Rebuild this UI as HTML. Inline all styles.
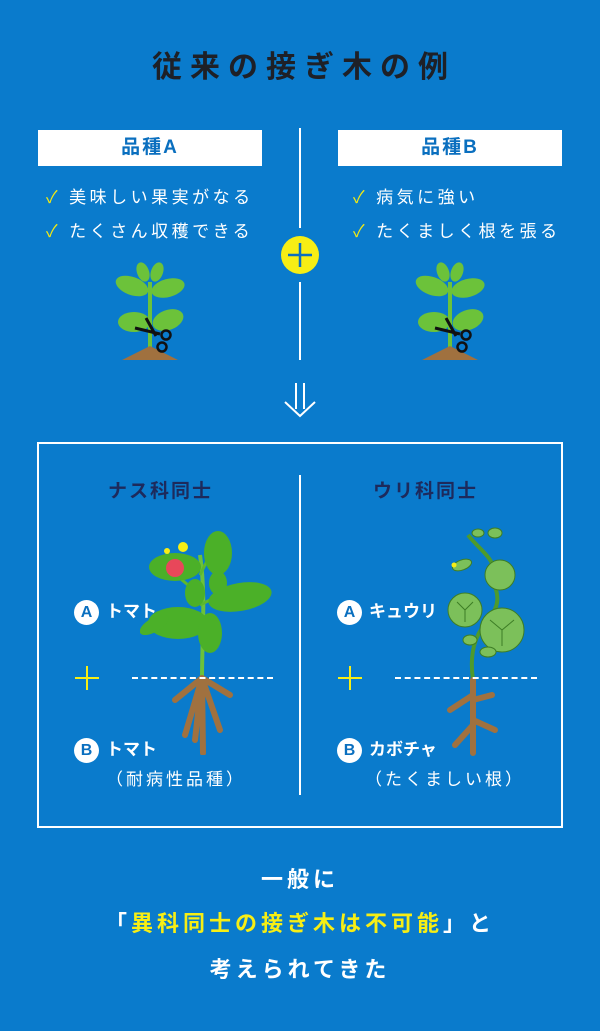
<!DOCTYPE html>
<html><head><meta charset="utf-8"><style>
*{margin:0;padding:0;box-sizing:border-box}
body{width:600px;height:1031px;background:#0a7bcc;position:relative;overflow:hidden;font-family:"Liberation Sans","Noto Sans CJK JP",sans-serif}
.a{position:absolute;white-space:nowrap}
.title{left:0;width:600px;top:42px;text-align:center;font-size:30px;font-weight:bold;color:#1e2027;letter-spacing:8px;padding-left:8px}
.box{background:#fff;height:36px;line-height:36px;text-align:center;color:#0a6fbf;font-weight:bold;font-size:19px;letter-spacing:2px}
.chk{color:#fff;font-size:17px;letter-spacing:3.5px}
.chk b{color:#f4ea12;font-weight:normal;margin-right:8px}
.vl{position:absolute;width:2px;background:#fff}
.h{color:#1d2a5c;font-weight:bold;font-size:19px;letter-spacing:2px}
.lbl{color:#fff;font-weight:bold;font-size:17px}
.circ{display:inline-block;width:25px;height:25px;border-radius:50%;background:#fff;color:#0a6fbf;text-align:center;line-height:25px;font-size:16px;font-weight:bold;margin-right:7px;vertical-align:middle}
.sub{color:#fff;font-size:17px;letter-spacing:3px}
.bot{left:0;width:600px;text-align:center;color:#fff;font-weight:bold;font-size:22px;letter-spacing:4px}
.bot span{color:#f7ee14}
.dash{position:absolute;height:0;border-top:2px dashed #fff}
</style></head><body>
<div class="a title">従来の接ぎ木の例</div>

<div class="a box" style="left:38px;top:130px;width:224px">品種A</div>
<div class="a box" style="left:338px;top:130px;width:224px">品種B</div>
<div class="a chk" style="left:46px;top:183px"><b>✓</b>美味しい果実がなる</div>
<div class="a chk" style="left:46px;top:217px"><b>✓</b>たくさん収穫できる</div>
<div class="a chk" style="left:353px;top:183px"><b>✓</b>病気に強い</div>
<div class="a chk" style="left:353px;top:217px"><b>✓</b>たくましく根を張る</div>

<div class="vl" style="left:299px;top:128px;height:100px"></div>
<div class="vl" style="left:299px;top:282px;height:78px"></div>
<svg class="a" style="left:280px;top:236px" width="40" height="40"><circle cx="20" cy="19" r="19" fill="#f7ee14"/><path d="M20 7v24M8 19h24" stroke="#0a6fbf" stroke-width="2.5"/></svg>

<svg class="a" style="left:110px;top:262px" width="80" height="100" viewBox="0 0 80 100">
<path d="M40 98V20" stroke="#6cc23a" stroke-width="4"/>
<ellipse cx="22" cy="24" rx="17" ry="9" fill="#6cc23a" transform="rotate(20 22 24)"/>
<ellipse cx="58" cy="26" rx="17" ry="9" fill="#6cc23a" transform="rotate(-15 58 26)"/>
<ellipse cx="33" cy="10" rx="6" ry="10" fill="#6cc23a" transform="rotate(-20 33 10)"/>
<ellipse cx="47" cy="10" rx="6" ry="10" fill="#6cc23a" transform="rotate(20 47 10)"/>
<ellipse cx="24" cy="60" rx="16" ry="10" fill="#6cc23a"/>
<ellipse cx="58" cy="58" rx="16" ry="10" fill="#6cc23a" transform="rotate(-20 58 58)"/>
<path d="M12 98L40 84L68 98Z" fill="#a0713f"/>
<path d="M25 66L50 72M36 56L46 74" stroke="#111" stroke-width="3"/><circle cx="56" cy="73" r="4.5" fill="none" stroke="#111" stroke-width="2.5"/><circle cx="52" cy="85" r="4.5" fill="none" stroke="#111" stroke-width="2.5"/>
</svg>
<svg class="a" style="left:410px;top:262px" width="80" height="100" viewBox="0 0 80 100">
<path d="M40 98V20" stroke="#6cc23a" stroke-width="4"/>
<ellipse cx="22" cy="24" rx="17" ry="9" fill="#6cc23a" transform="rotate(20 22 24)"/>
<ellipse cx="58" cy="26" rx="17" ry="9" fill="#6cc23a" transform="rotate(-15 58 26)"/>
<ellipse cx="33" cy="10" rx="6" ry="10" fill="#6cc23a" transform="rotate(-20 33 10)"/>
<ellipse cx="47" cy="10" rx="6" ry="10" fill="#6cc23a" transform="rotate(20 47 10)"/>
<ellipse cx="24" cy="60" rx="16" ry="10" fill="#6cc23a"/>
<ellipse cx="58" cy="58" rx="16" ry="10" fill="#6cc23a" transform="rotate(-20 58 58)"/>
<path d="M12 98L40 84L68 98Z" fill="#a0713f"/>
<path d="M25 66L50 72M36 56L46 74" stroke="#111" stroke-width="3"/><circle cx="56" cy="73" r="4.5" fill="none" stroke="#111" stroke-width="2.5"/><circle cx="52" cy="85" r="4.5" fill="none" stroke="#111" stroke-width="2.5"/>
</svg>

<svg class="a" style="left:282px;top:380px" width="36" height="40"><path d="M14 3v26M22 3v26" stroke="#fff" stroke-width="2"/><path d="M3 22l15 14l15-14" stroke="#fff" stroke-width="2" fill="none"/></svg>

<div class="a" style="left:37px;top:442px;width:526px;height:386px;border:2px solid #fff"></div>
<div class="vl" style="left:299px;top:475px;height:320px"></div>
<div class="a h" style="left:108px;top:476px">ナス科同士</div>
<div class="a h" style="left:373px;top:476px">ウリ科同士</div>

<!-- tomato plant -->
<svg class="a" style="left:140px;top:525px" width="140" height="230" viewBox="0 0 140 230">
<path d="M62 155C62 110 66 70 60 30" stroke="#6cc23a" stroke-width="4" fill="none"/>
<path d="M60 70L30 45M60 80L90 65M62 100L30 95M60 50L75 20" stroke="#5cb82e" stroke-width="3"/>
<g fill="#4bb028">
<ellipse cx="35" cy="42" rx="26" ry="14"/><ellipse cx="78" cy="28" rx="14" ry="22"/>
<ellipse cx="100" cy="72" rx="32" ry="14" transform="rotate(-10 100 72)"/>
<ellipse cx="38" cy="98" rx="30" ry="16"/><ellipse cx="70" cy="108" rx="12" ry="20"/>
<ellipse cx="55" cy="68" rx="10" ry="14"/><ellipse cx="14" cy="100" rx="16" ry="7" transform="rotate(-30 14 100)"/>
<ellipse cx="78" cy="58" rx="9" ry="12"/>
</g>
<circle cx="35" cy="43" r="9" fill="#e8475a"/>
<circle cx="43" cy="22" r="5" fill="#f7ee14"/><circle cx="27" cy="26" r="3" fill="#f7ee14"/>
<path d="M62 153L35 175M62 153L90 170M62 153L45 210M62 153L80 205M62 153L63 228M62 153L55 215" stroke="#a0713f" stroke-width="6" stroke-linecap="round"/>
</svg>
<!-- cucumber plant -->
<svg class="a" style="left:440px;top:525px" width="100" height="240" viewBox="0 0 100 240">
<path d="M33 155C28 120 40 105 48 95C70 70 45 55 55 45C50 30 40 25 28 10" stroke="#4e9a2c" stroke-width="4" fill="none"/>
<g fill="#7cc05a" stroke="#3d7d25" stroke-width="1">
<circle cx="25" cy="85" r="17"/><circle cx="62" cy="105" r="22"/><circle cx="60" cy="50" r="15"/>
<ellipse cx="30" cy="115" rx="7" ry="5"/><ellipse cx="48" cy="127" rx="8" ry="5"/>
<ellipse cx="22" cy="40" rx="10" ry="5" transform="rotate(-20 22 40)"/>
<ellipse cx="38" cy="8" rx="6" ry="4"/><ellipse cx="55" cy="8" rx="7" ry="5"/>
</g>
<path d="M25 85l-8-8M25 85l8-8M25 85v12M62 105l-12-10M62 105l12-10M62 105v16" stroke="#3d7d25" stroke-width="1"/>
<circle cx="14" cy="40" r="2.5" fill="#f7ee14"/>
<path d="M33 155V228M33 170L10 185M33 175L52 170M33 200L15 220M33 195L55 205" stroke="#a0713f" stroke-width="6" stroke-linecap="round"/>
</svg>

<div class="dash" style="left:132px;top:677px;width:141px"></div>
<div class="dash" style="left:395px;top:677px;width:142px"></div>
<svg class="a" style="left:75px;top:666px" width="24" height="24"><path d="M12 0v24M0 12h24" stroke="#f7ee14" stroke-width="2"/></svg>
<svg class="a" style="left:338px;top:666px" width="24" height="24"><path d="M12 0v24M0 12h24" stroke="#f7ee14" stroke-width="2"/></svg>

<div class="a lbl" style="left:74px;top:597px"><span class="circ">A</span>トマト</div>
<div class="a lbl" style="left:74px;top:735px"><span class="circ">B</span>トマト</div>
<div class="a sub" style="left:106px;top:765px">（耐病性品種）</div>
<div class="a lbl" style="left:337px;top:597px"><span class="circ">A</span>キュウリ</div>
<div class="a lbl" style="left:337px;top:735px"><span class="circ">B</span>カボチャ</div>
<div class="a sub" style="left:365px;top:765px">（たくましい根）</div>

<div class="a bot" style="top:862px">一般に</div>
<div class="a bot" style="top:906px">「<span>異科同士の接ぎ木は不可能</span>」と</div>
<div class="a bot" style="top:952px">考えられてきた</div>
</body></html>
